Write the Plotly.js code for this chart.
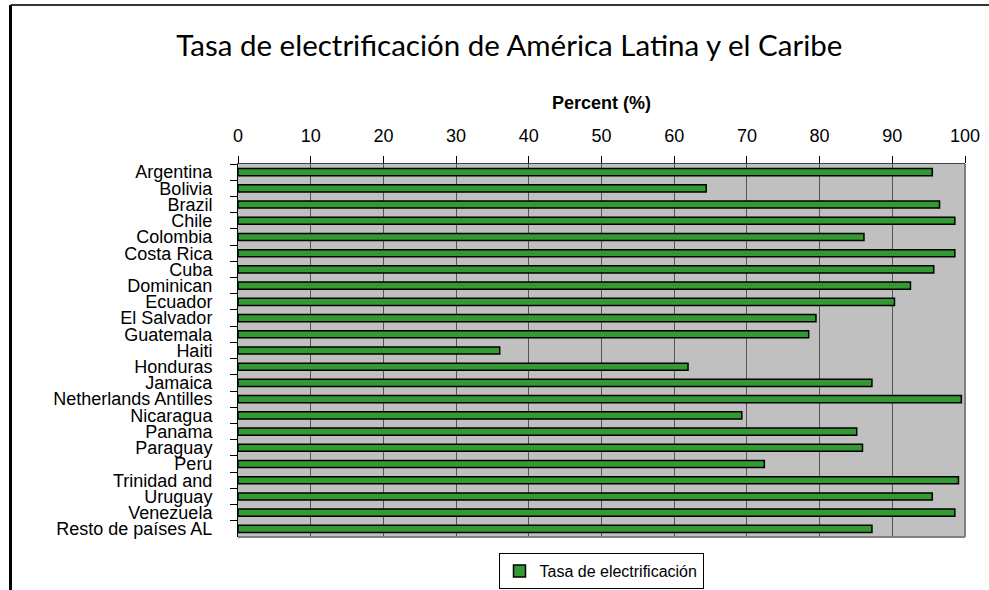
<!DOCTYPE html>
<html>
<head>
<meta charset="utf-8">
<script src="https://cdn.plot.ly/plotly-3.0.1.min.js"></script>
<style>
  html, body { margin: 0; padding: 0; overflow: hidden; background: #fff; }
  #chart { position: absolute; left: 0; top: 0; width: 989px; height: 590px; }
</style>
</head>
<body>
<div id="chart"></div>
<script>
const categories = [
  "Argentina", "Bolivia", "Brazil", "Chile", "Colombia", "Costa Rica", "Cuba",
  "Dominican", "Ecuador", "El Salvador", "Guatemala", "Haiti", "Honduras",
  "Jamaica", "Netherlands Antilles", "Nicaragua", "Panama", "Paraguay", "Peru",
  "Trinidad and", "Uruguay", "Venezuela", "Resto de países AL"
];
const values = [
  95.5, 64.4, 96.5, 98.6, 86.1, 98.6, 95.7,
  92.5, 90.3, 79.5, 78.5, 36.0, 61.9,
  87.2, 99.5, 69.3, 85.1, 85.9, 72.4,
  99.1, 95.5, 98.6, 87.2
];
const seriesName = "Tasa de electrificación";
const chartTitle = "Tasa de electrificación de América Latina y el Caribe";
const axisTitle = "Percent (%)";

const armFont = "Liberation Sans, Arial, sans-serif";

const trace = {
  type: "bar",
  orientation: "h",
  x: values,
  y: categories,
  name: seriesName,
  marker: { color: "#339933", line: { color: "#000000", width: 1.5 } },
  hoverinfo: "x+y"
};

// frame of the chart area (partly outside the picture)
const fx = (10.5 - 238) / 727;
const fy = (537 - 5) / 373;

const layout = {
  width: 989,
  height: 590,
  margin: { l: 238, r: 24, t: 164, b: 53, autoexpand: false },
  paper_bgcolor: "#ffffff",
  plot_bgcolor: "#C0C0C0",
  bargap: 0.56,
  showlegend: true,
  title: {
    text: chartTitle,
    font: { family: "Lato, Open Sans, sans-serif", size: 29.5, color: "#000" },
    x: 0.515, xref: "container", xanchor: "center",
    y: 1 - 46 / 590, yref: "container", yanchor: "middle"
  },
  xaxis: {
    side: "top",
    range: [0, 100],
    tick0: 0, dtick: 10,
    ticks: "outside", ticklen: 7, tickcolor: "#000", tickwidth: 1,
    ticklabelstandoff: 6,
    showgrid: true, gridcolor: "#555555", gridwidth: 1,
    zeroline: false,
    showline: true, linecolor: "#404040", linewidth: 1.5,
    tickfont: { family: armFont, size: 18, color: "#000" },
    title: { text: "<b>" + axisTitle + "</b>", font: { family: armFont, size: 18, color: "#000" }, standoff: 12 },
    automargin: false,
    fixedrange: true
  },
  yaxis: {
    type: "category",
    categoryorder: "array",
    categoryarray: categories,
    autorange: "reversed",
    tickmode: "linear", tick0: 0, dtick: 1,
    ticks: "outside", tickson: "boundaries", ticklen: 7, tickcolor: "#000", tickwidth: 1,
    showgrid: false,
    showline: true, linecolor: "#000", linewidth: 1,
    tickfont: { family: armFont, size: 18, color: "#000" },
    ticklabelstandoff: 21,
    automargin: false,
    fixedrange: true
  },
  legend: {
    orientation: "h",
    xref: "container", yref: "container",
    x: 601 / 989, xanchor: "center",
    y: 1 - 553 / 590, yanchor: "top",
    bgcolor: "#ffffff",
    bordercolor: "#000000", borderwidth: 1,
    font: { family: armFont, size: 16, color: "#000" }
  },
  shapes: [
    { type: "line", xref: "paper", yref: "paper", x0: 1, x1: 1, y0: 0, y1: 1,
      line: { color: "#808080", width: 2 }, layer: "above" },
    { type: "line", xref: "paper", yref: "paper", x0: 0, x1: 1, y0: 0, y1: 0,
      line: { color: "#808080", width: 2 }, layer: "above" },
    { type: "line", xref: "paper", yref: "paper", x0: fx, x1: fx, y0: -0.5, y1: fy,
      line: { color: "#000000", width: 3 }, layer: "above" },
    { type: "line", xref: "paper", yref: "paper", x0: fx, x1: 1.5, y0: fy, y1: fy,
      line: { color: "#333333", width: 2 }, layer: "above" }
  ]
};

Plotly.newPlot("chart", [trace], layout, { displayModeBar: false, staticPlot: true });
</script>
</body>
</html>
